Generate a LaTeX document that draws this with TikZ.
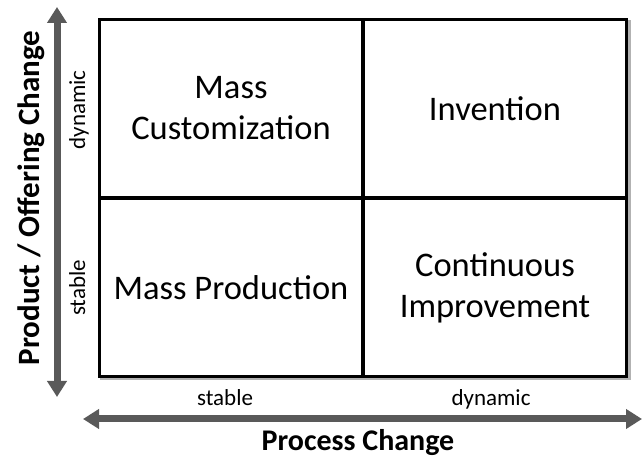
\documentclass[tikz,border=0pt]{standalone}
\usepackage{fontspec}
\setmainfont{Carlito}
\usetikzlibrary{matrix,arrows.meta,backgrounds}
\definecolor{axisgray}{RGB}{89,89,89}
\newcommand\quadfont{\fontsize{34.5bp}{41bp}\selectfont\hyphenpenalty10000\exhyphenpenalty10000\relax}

\begin{document}
\begin{tikzpicture}[x=1bp,y=1bp,
    axis/.style={draw=axisgray,line width=7bp,
        {Triangle[width=19bp,length=16bp]}-{Triangle[width=19bp,length=16bp]}},
    axislabel/.style={font=\fontsize{30bp}{36bp}\selectfont\bfseries,inner sep=0pt},
    ticklabel/.style={font=\fontsize{23bp}{27bp}\selectfont,inner sep=0pt}
]
    \useasboundingbox (0,0) rectangle (643,459);
    \matrix(quad)[matrix of nodes, at={(363,261)}, inner sep=0pt,
        draw, line width=2bp, fill=white,
        nodes={draw,line width=2bp,outer sep=0pt,anchor=center,align=flush center,
            text width=245bp,minimum width=262bp,minimum height=177bp,
            font=\quadfont},
        %column sep=0pt, row sep=0pt
    ]{
        Mass Customization & Invention \\
        Mass Production & Continuous Improvement \\
    };
    \begin{scope}[on background layer]
        \fill[black!30] ([shift={(2.5,-2.5)}]quad.north west) rectangle ([shift={(2.5,-2.5)}]quad.south east);
    \end{scope}
    % axes
    \coordinate (ytop) at (57,452);
    \coordinate (ybot) at (57,62);
    \coordinate (xleft) at (83,40);
    \coordinate (xright) at (642,40);
    \draw[axis] (ybot) -- (ytop);
    \draw[axis] (xleft) -- (xright);
    % labels
    \node[axislabel,rotate=90,anchor=base,font=\fontsize{31bp}{36bp}\selectfont\bfseries] (ylabel) at (39,261) {Product / Offering Change};
    \node[axislabel,anchor=base] (xlabel) at (358,8) {Process Change};
    \node[ticklabel,rotate=90,anchor=base] (ydyn) at (85,349) {dynamic};
    \node[ticklabel,rotate=90,anchor=base] (ystab) at (85,171) {stable};
    \node[ticklabel,anchor=base] (xstab) at (225,53) {stable};
    \node[ticklabel,anchor=base] (xdyn) at (491,53) {dynamic};
\end{tikzpicture}
\end{document}
